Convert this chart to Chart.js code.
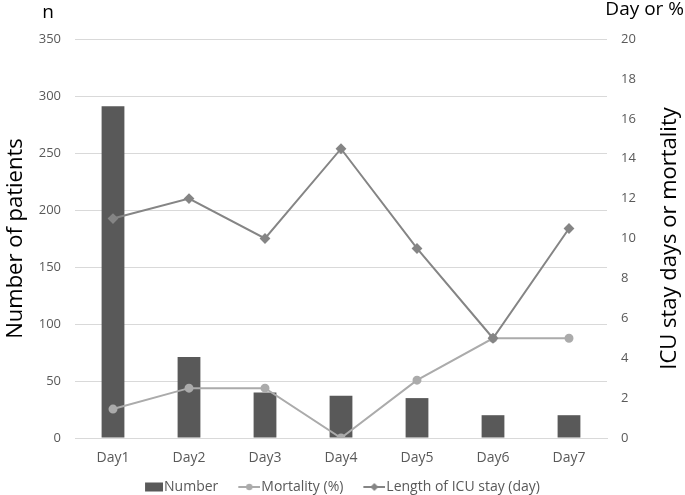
<!DOCTYPE html>
<html><head><meta charset="utf-8">
<script src="https://cdn.jsdelivr.net/npm/chart.js@4.4.1/dist/chart.umd.min.js"></script>
<style>html,body{margin:0;padding:0;background:#fff;}#wrap{width:685px;height:495px;}</style>
</head><body><div id="wrap"><canvas id="c" width="685" height="495"></canvas></div>
<script>
const categories = ["Day1","Day2","Day3","Day4","Day5","Day6","Day7"];
const numberPatients = [291, 71, 40, 37, 35, 20, 20];
const mortality = [1.45, 2.5, 2.5, 0, 2.9, 5, 5];
const icuStay = [11, 12, 10, 14.5, 9.5, 5, 10.5];
const leftTicks = [0,50,100,150,200,250,300,350];
const rightTicks = [0,2,4,6,8,10,12,14,16,18,20];

const FONT = "'Open Sans', 'Noto Sans', sans-serif";
// legend key images: visible part sits at the right end, leaving room on the left
function legendIcon(color, style){
  const c = document.createElement('canvas'); c.width = 34; c.height = 10;
  const g = c.getContext('2d');
  g.strokeStyle = color; g.lineWidth = 2;
  g.beginPath(); g.moveTo(12,5); g.lineTo(34,5); g.stroke();
  g.fillStyle = color;
  g.beginPath();
  if(style==='circle'){ g.arc(23,5,3.2,0,Math.PI*2); }
  else { g.moveTo(23,1); g.lineTo(27,5); g.lineTo(23,9); g.lineTo(19,5); g.closePath(); }
  g.fill();
  return c;
}
function boxIcon(color){
  const c = document.createElement('canvas'); c.width = 34; c.height = 10;
  const g = c.getContext('2d'); g.fillStyle = color; g.fillRect(16,0.5,18,9);
  return c;
}
const headings = {
  id:'headings',
  afterLayout(chart){ if(chart.legend){ chart.legend.left -= 5; chart.legend.right -= 5; } },
  afterDraw(chart){
    const g = chart.ctx; g.save();
    g.fillStyle = '#000'; g.font = "19px " + FONT; g.textBaseline='middle';
    g.textAlign='center'; g.fillText('n', 48, 13);
    g.textAlign='right'; g.fillText('Day or %', 684, 10);
    const a = chart.chartArea;
    g.translate(670, (a.top + a.bottom)/2);
    g.rotate(-Math.PI/2);
    g.textAlign='center'; g.font = "22px " + FONT;
    g.fillText('ICU stay days or mortality', 0, 0);
    g.restore();
  }
};
new Chart(document.getElementById('c'), {
  data: {
    labels: categories,
    datasets: [
      {type:'line', label:'Mortality (%)', data: mortality, yAxisID:'y1', borderColor:'#ababab', backgroundColor:'#ababab', borderWidth:2, pointRadius:3.5, pointStyle:'circle', order:1, tension:0},
      {type:'line', label:'Length of ICU stay (day)', data: icuStay, yAxisID:'y1', borderColor:'#858585', backgroundColor:'#858585', borderWidth:2, pointRadius:4, pointStyle:'rectRot', order:0, tension:0},
      {type:'bar', label:'Number', data: numberPatients, yAxisID:'y', backgroundColor:'#595959', borderWidth:0, barPercentage:0.40, categoryPercentage:0.75, order:2}
    ]
  },
  options: {
    responsive:false, animation:false,
    layout:{padding:{top:39,left:0,right:0,bottom:0}},
    plugins:{
      tooltip:{enabled:false},
      legend:{position:'bottom', maxHeight:29, labels:{
        font:{family:FONT,size:14}, color:'#595959', padding:14, usePointStyle:true, pointStyleWidth:22,
        generateLabels(chart){
          return [
            {text:'Number', pointStyle: boxIcon('#595959'), fillStyle:'#595959', strokeStyle:'#595959', lineWidth:0, datasetIndex:2, fontColor:'#595959'},
            {text:'Mortality (%)', pointStyle: legendIcon('#ababab','circle'), fillStyle:'#ababab', strokeStyle:'#ababab', lineWidth:0, datasetIndex:0, fontColor:'#595959'},
            {text:'Length of ICU stay (day)', pointStyle: legendIcon('#858585','diamond'), fillStyle:'#858585', strokeStyle:'#858585', lineWidth:0, datasetIndex:1, fontColor:'#595959'}
          ];
        }
      }}
    },
    scales:{
      x:{grid:{display:false, drawTicks:false}, border:{color:'#d9d9d9'}, ticks:{font:{family:FONT,size:14}, color:'#595959', padding:12},
         afterFit(s){ s.height = 28; }},
      y:{position:'left', min:0, max:350, afterBuildTicks(s){ s.ticks = leftTicks.map(v=>({value:v})); },
         grid:{color:'#d9d9d9', drawTicks:false}, border:{display:false},
         ticks:{font:{family:FONT,size:13}, color:'#595959', padding:14},
         title:{display:true, text:'Number of patients', font:{family:FONT,size:22}, color:'#000', padding:{top:3,bottom:0}},
         afterFit(s){ s.width = 75; }},
      y1:{position:'right', min:0, max:20, afterBuildTicks(s){ s.ticks = rightTicks.map(v=>({value:v})); },
         grid:{display:false, drawTicks:false}, border:{display:false},
         ticks:{font:{family:FONT,size:13}, color:'#595959', padding:14},
         afterFit(s){ s.width = 78; }}
    }
  },
  plugins:[headings]
});
</script></body></html>
